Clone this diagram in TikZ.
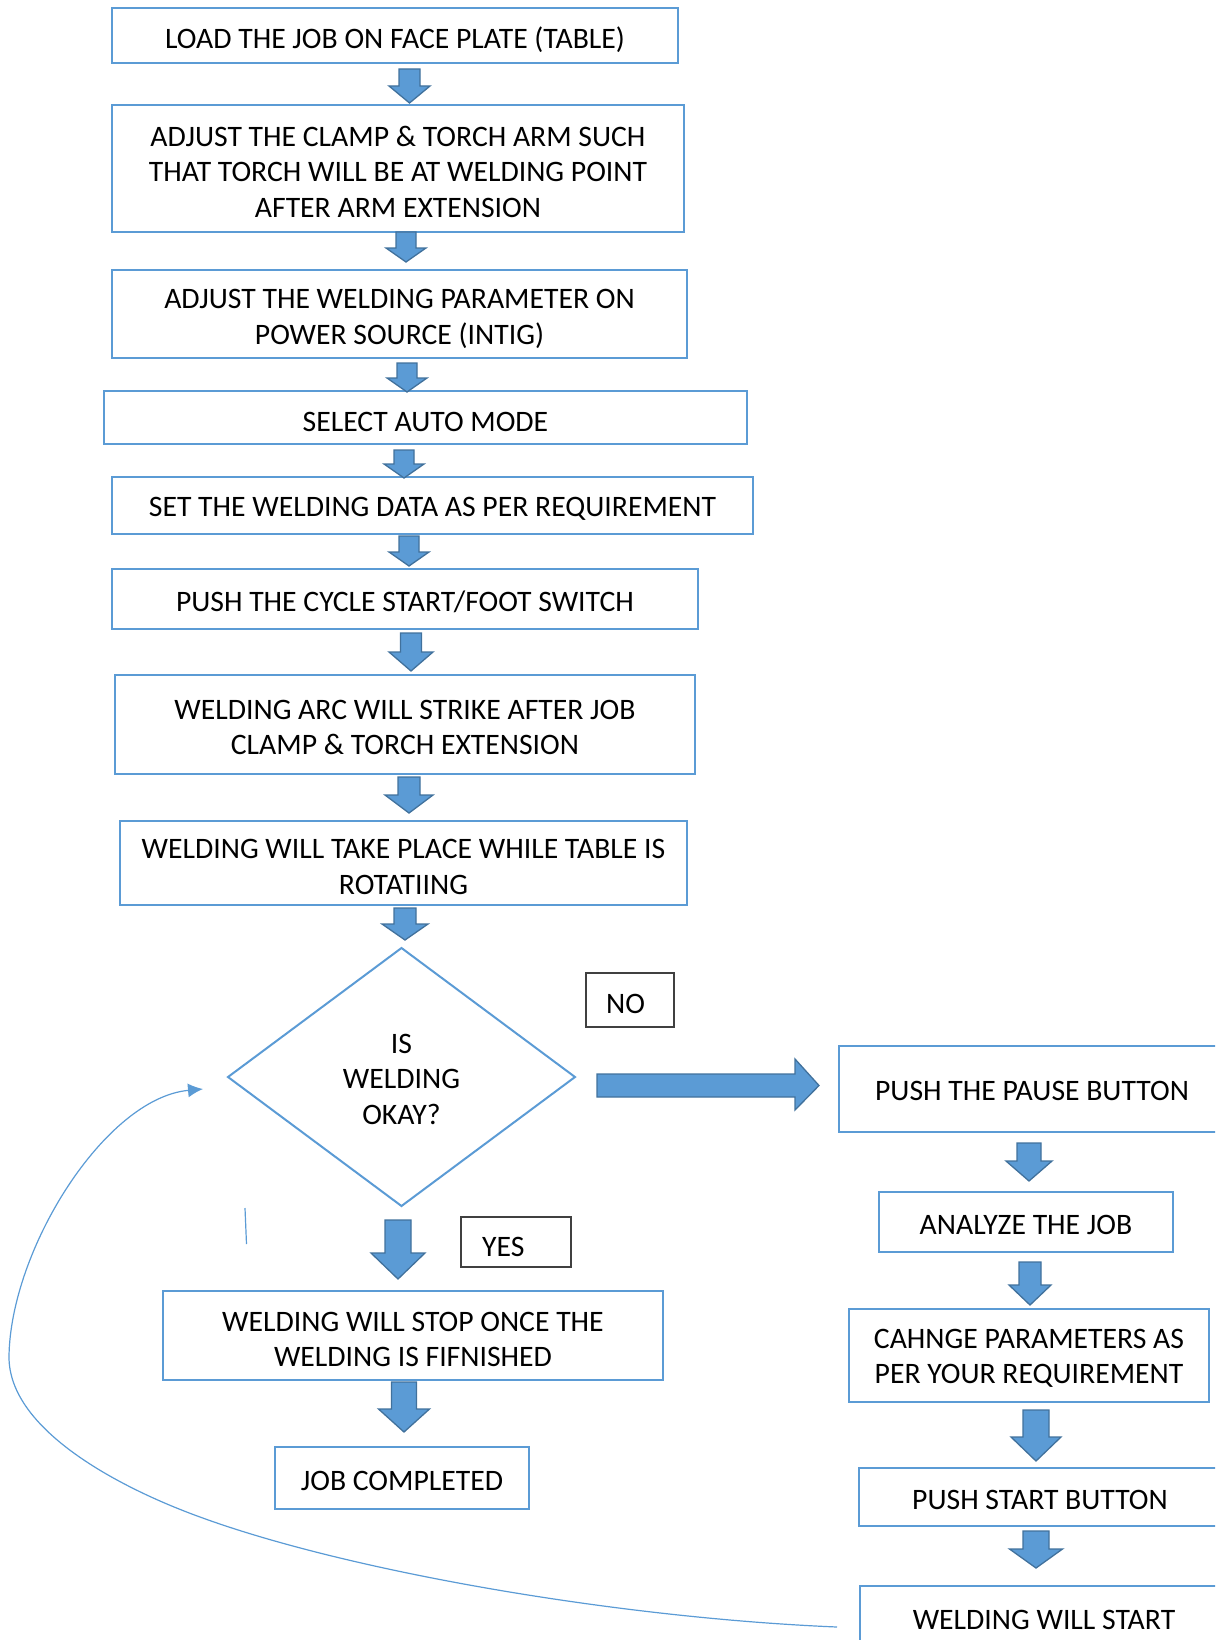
\documentclass[tikz,border=0pt]{standalone}
\usepackage{fontspec}
\setmainfont{Carlito}
\usetikzlibrary{arrows.meta}
\definecolor{bxblue}{HTML}{5B9BD5}
\definecolor{arrfill}{HTML}{5B9BD5}
\definecolor{arrline}{HTML}{41719C}
\definecolor{tagline}{HTML}{404040}
% block arrow pointing down: #1 center x, #2 top y, #3 tip y, #4 shaft width, #5 head width, #6 head length
\newcommand\bdown[6]{%
  \draw[barrow] ({#1-#4/2},#2) -- ({#1+#4/2},#2) -- ({#1+#4/2},{#3-#6}) -- ({#1+#5/2},{#3-#6})
    -- (#1,#3) -- ({#1-#5/2},{#3-#6}) -- ({#1-#4/2},{#3-#6}) -- cycle;}
% box: [text offset]{name}{cx}{cy}{w}{h}{text}
\newcommand\bx[7][3]{%
  \node[frame, minimum width=#5pt, minimum height=#6pt] (#2) at (#3,#4) {};
  \node[txt] (#2t) at (#3,{#4+#1}) {#7};}
\begin{document}
\begin{tikzpicture}[x=1pt,y=-1pt,
  txt/.style={font=\fontsize{29.7}{35.5}\selectfont, align=center, inner sep=0pt},
  frame/.style={draw=bxblue, line width=2pt, fill=white, inner sep=0pt},
  tagbox/.style={draw=tagline, line width=1.3pt, inner sep=0pt},
  barrow/.style={fill=arrfill, draw=arrline, line width=1.3pt, line join=miter},
  curve/.style={draw=bxblue, line width=1.2pt, -{Latex[length=15pt,width=14pt]}},
  thin/.style={draw=bxblue, line width=1.2pt}]
\useasboundingbox (0,0) rectangle (1215,1640);
\clip (0,0) rectangle (1215,1640);

% main column
\bx[4]{b1}{395}{36}{566}{55}{LOAD THE JOB ON FACE PLATE (TABLE)}
\bx{b2}{398}{168.5}{572}{127}{ADJUST THE CLAMP \& TORCH ARM SUCH\\THAT TORCH WILL BE AT WELDING POINT\\AFTER ARM EXTENSION}
\bx[5]{b3}{399.5}{314}{575}{88}{ADJUST THE WELDING PARAMETER ON\\POWER SOURCE (INTIG)}
\bx[4]{b4}{425.5}{417.5}{643}{53}{SELECT AUTO MODE}
\bx{b5}{432.5}{505.5}{641}{57}{SET THE WELDING DATA AS PER REQUIREMENT}
\bx{b6}{405}{599}{586}{60}{PUSH THE CYCLE START/FOOT SWITCH}
\bx{b7}{405}{724.5}{580}{99}{WELDING ARC WILL STRIKE AFTER JOB\\CLAMP \& TORCH EXTENSION}
\bx[4]{b8}{403.5}{863}{567}{84}{WELDING WILL TAKE PLACE WHILE TABLE IS\\ROTATIING}

\bdown{409.5}{69}{103}{21}{41}{17}
\bdown{406}{232}{262}{20}{40}{14}
\bdown{407}{363}{392}{20}{40}{14}
\bdown{404}{450}{478}{20}{40}{14}
\bdown{409}{536}{566}{20}{40}{14}
\bdown{411}{633}{671}{21}{44}{19}
\bdown{409}{777}{813}{22}{48}{18}
\bdown{405}{908}{940}{22}{46}{16}

% decision
\draw[draw=bxblue, line width=2pt] (401.5,948) -- (575,1077) -- (401.5,1206) -- (228,1077) -- cycle;
\node[txt] (dia) at (401.5,1079) {IS\\WELDING\\OKAY?};
\node[tagbox, minimum width=88pt, minimum height=54pt] (no) at (630,1000) {};
\node[txt, anchor=west] (not) at (606,1004) {NO};
\node[tagbox, minimum width=110pt, minimum height=50pt] (yes) at (516,1242) {};
\node[txt, anchor=west] (yest) at (482,1247) {YES};

% NO branch arrow
\draw[barrow] (597,1074) -- (795,1074) -- (795,1059) -- (819,1085.5) -- (795,1110) -- (795,1097) -- (597,1097) -- cycle;

% YES branch
\bdown{398}{1220}{1279}{26}{54}{26}
\bx[4]{stop}{413}{1335.5}{500}{89}{WELDING WILL STOP ONCE THE\\WELDING IS FIFNISHED}
\bdown{404}{1382}{1432}{25}{51}{23}
\bx{done}{402}{1478}{254}{62}{JOB COMPLETED}

% right column
\bx[2]{pause}{1032}{1089}{386}{86}{PUSH THE PAUSE BUTTON}
\bdown{1029}{1143}{1181}{24}{46}{20}
\bx{analyze}{1026}{1222}{294}{60}{ANALYZE THE JOB}
\bdown{1030}{1262}{1305}{22}{42}{20}
\bx{change}{1029}{1355.5}{360}{93}{CAHNGE PARAMETERS AS\\PER YOUR REQUIREMENT}
\bdown{1036}{1410}{1461}{26}{50}{24}
\bx{pstart}{1040}{1497}{362}{58}{PUSH START BUTTON}
\bdown{1036}{1531}{1568}{26}{53}{19}
\node[frame, anchor=north west, minimum width=370pt, minimum height=120pt] (wstart) at (859,1585) {};
\node[txt] (wstartt) at (1044,1620) {WELDING WILL START};

% return curve
\coordinate (ret) at (837,1627);
\coordinate (retend) at (203,1089);
\draw[curve] (ret) .. controls (620,1618) and (350,1572) .. (200,1517)
  .. controls (120,1488) and (9,1430) .. (9,1357)
  .. controls (10,1250) and (105,1098) .. (retend);

% stray short line
\coordinate (s1) at (245,1208);
\coordinate (s2) at (246.5,1244);
\draw[thin] (s1) -- (s2);
\end{tikzpicture}
\end{document}
